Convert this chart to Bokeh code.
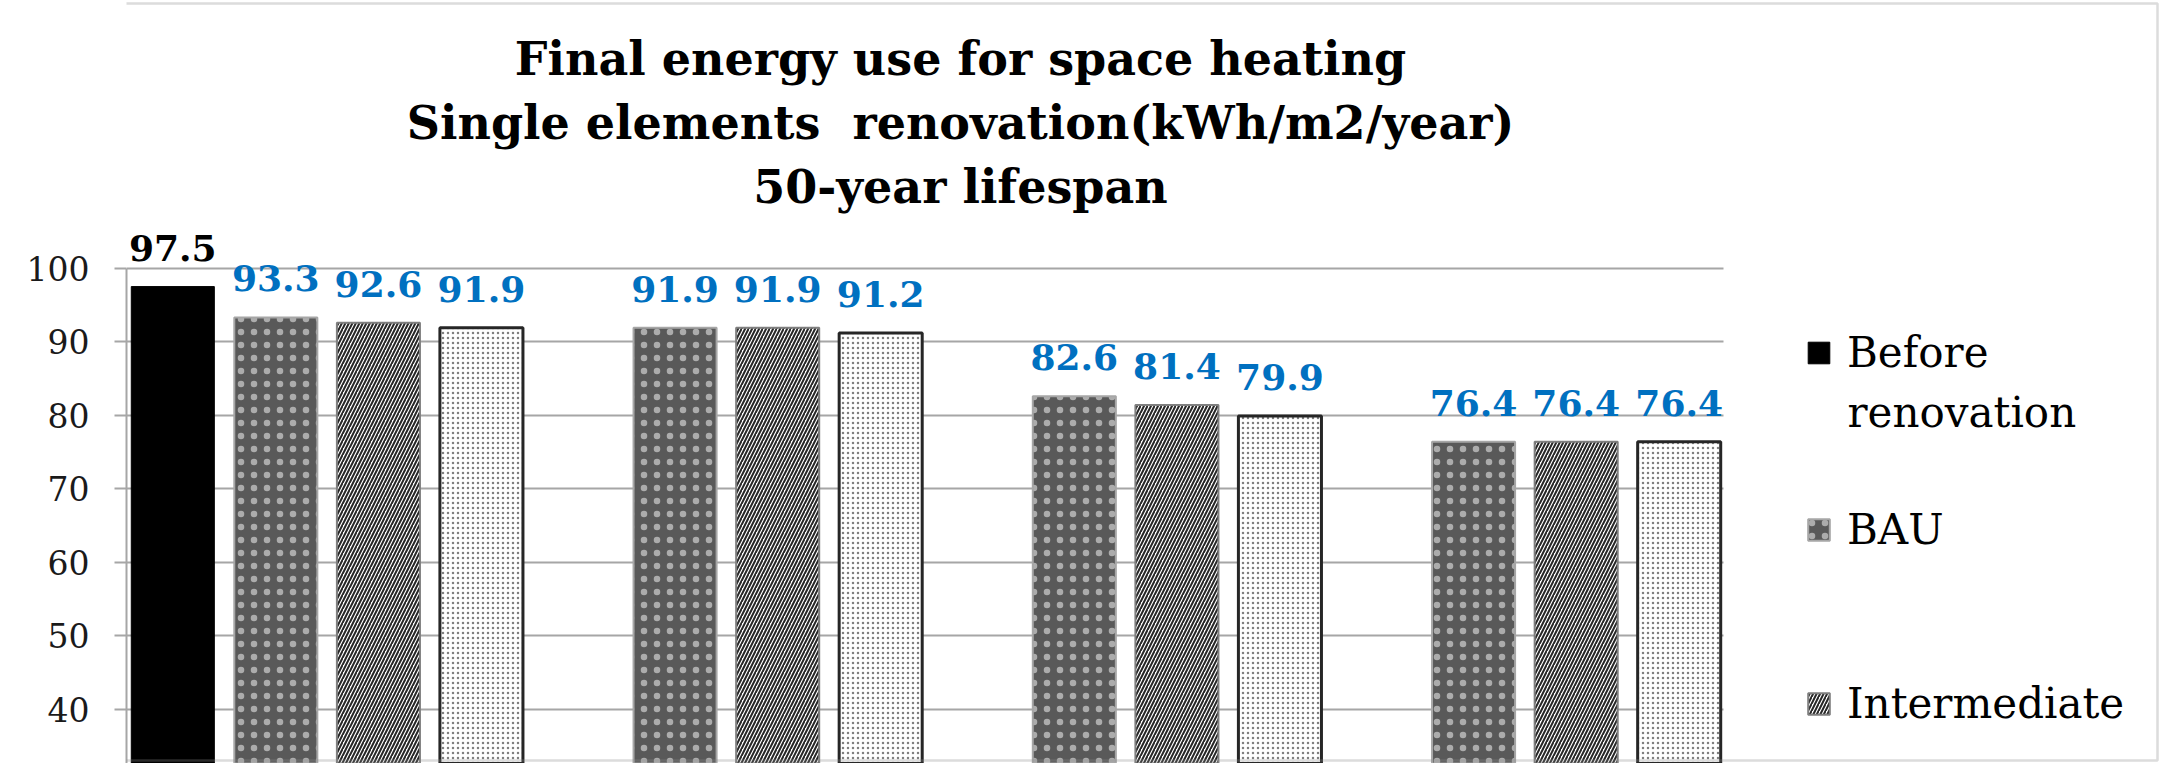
from bokeh.plotting import figure
from bokeh.models import (ColumnDataSource, Range1d, FixedTicker, LabelSet, Label,
                          Legend, LegendItem, BoxAnnotation)
from bokeh.embed import file_html
from bokeh.resources import INLINE
from bokeh.core.properties import value

# ---------------- data ----------------
title_lines = ["Final energy use for space heating",
               "Single elements\u00a0 renovation(kWh/m2/year)",
               "50-year lifespan"]
group_pos = [0, 1, 2, 3]
before_renovation = [97.5, None, None, None]
bau = [93.3, 91.9, 82.6, 76.4]
intermediate = [92.6, 91.9, 81.4, 76.4]
fourth_series = [91.9, 91.2, 79.9, 76.4]
legend_labels = ["Before", "BAU", "Intermediate"]
legend_wrap = "renovation"
y_ticks = [30, 40, 50, 60, 70, 80, 90, 100]

# ---------------- style ----------------
SERIF = "DejaVu Serif"
BLUE = "#0070C0"
W, H = 2160, 763
LEFT = 126
offsets = [-0.384, -0.126, 0.131, 0.389]
bar_w = 0.208
px_per_cat = 399.25
px_per_unit = 7.355
y100_px = 267.7
x_end = -0.5 + (W - LEFT) / px_per_cat
y_top = 100 + y100_px / px_per_unit
y_bot = 100 - (H - y100_px) / px_per_unit


def y_at(px):
    return 100 + (y100_px - px) / px_per_unit


def x_at(px):
    return (px - LEFT) / px_per_cat - 0.5


def make_source(vals, off):
    xs = [g + off for g, v in zip(group_pos, vals) if v is not None]
    ys = [v for v in vals if v is not None]
    return ColumnDataSource(dict(x=xs, top=ys, label=[f"{v:.1f}" for v in ys]))


p = figure(width=W, height=H, output_backend="svg", toolbar_location=None,
           x_range=Range1d(-0.5, x_end), y_range=Range1d(y_bot, y_top),
           x_axis_location=None, min_border_left=LEFT, min_border_right=0,
           min_border_top=0, min_border_bottom=0)
p.title.visible = False
p.outline_line_color = None
p.background_fill_color = "white"
p.border_fill_color = "white"

p.xgrid.visible = False
p.ygrid.ticker = FixedTicker(ticks=y_ticks)
p.ygrid.grid_line_color = "#a6a6a6"
p.ygrid.grid_line_width = 2
p.ygrid.cross_bounds = (-0.5, 3.5)

ax = p.yaxis[0]
ax.ticker = FixedTicker(ticks=y_ticks)
ax.bounds = (0, 100)
ax.axis_line_color = "#a6a6a6"
ax.axis_line_width = 2
ax.major_tick_line_color = "#a6a6a6"
ax.major_tick_line_width = 2
ax.major_tick_out = 12
ax.major_tick_in = 0
ax.minor_tick_line_color = None
ax.major_label_standoff = 25
ax.major_label_text_font = SERIF
ax.major_label_text_font_size = "33px"
ax.major_label_text_color = "#1a1a1a"

styles = [
    dict(fill_color="black", line_color="black", line_width=1),
    dict(fill_color="#595959", line_color="#a6a6a6", line_width=2,
         hatch_pattern="dot", hatch_color="white", hatch_alpha=0.5,
         hatch_scale=13, hatch_weight=0.8),
    dict(fill_color="white", line_color="#7f7f7f", line_width=2,
         hatch_pattern="right_diagonal_line", hatch_color="#262626", hatch_scale=7, hatch_weight=2),
    dict(fill_color="white", line_color="#262626", line_width=3,
         hatch_pattern="dot", hatch_color="#7f7f7f", hatch_scale=5, hatch_weight=1.6),
]
label_colors = ["black", BLUE, BLUE, BLUE]

renderers = []
for vals, off, st, lc in zip([before_renovation, bau, intermediate, fourth_series],
                             offsets, styles, label_colors):
    s = make_source(vals, off)
    r = p.vbar(x="x", top="top", bottom=0, width=bar_w, source=s, **st)
    renderers.append(r)
    p.add_layout(LabelSet(x="x", y="top", text="label", source=s, y_offset=26,
                          text_align="center", text_baseline="alphabetic",
                          text_font=value(SERIF), text_font_style="bold",
                          text_font_size="36px", text_color=lc))

# title
for line, base_px in zip(title_lines, [58.7, 122.5, 186.0]):
    p.add_layout(Label(x=x_at(960), y=y_at(base_px), text=line,
                       text_align="center", text_baseline="alphabetic", text_font=SERIF,
                       text_font_style="bold", text_font_size="46px",
                       text_color="black"))

# legends (one per entry for exact placement)
lx = 1805 - LEFT
legend_pos = [(lx, H - 350.5 - 26), (lx, H - 528 - 26), (lx, H - 702 - 26)]
for lab, r, loc in zip(legend_labels, renderers[:3], legend_pos):
    lg = Legend(items=[LegendItem(label=lab, renderers=[r])], location=loc,
                background_fill_alpha=0, border_line_alpha=0, padding=0, margin=0,
                glyph_width=27, glyph_height=27, label_standoff=15,
                label_text_font=SERIF, label_text_font_size="42px",
                label_text_color="black")
    p.add_layout(lg)
p.add_layout(Label(x=x_at(1847), y=y_at(412.0), text=legend_wrap,
                   text_align="left", text_baseline="alphabetic", text_font=SERIF,
                   text_font_size="42px", text_color="black"))

# chart border (parts inside the frame)
p.add_layout(BoxAnnotation(left=3, right=W - 3, top=3, bottom=H - 3,
                           left_units="canvas", right_units="canvas",
                           top_units="canvas", bottom_units="canvas",
                           fill_alpha=0, line_color="#8c8c8c", line_width=2.5,
                           level="overlay"))

open("out.html", "w").write(file_html(p, INLINE))
